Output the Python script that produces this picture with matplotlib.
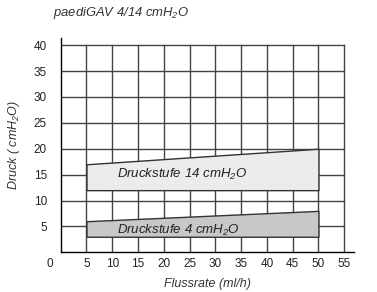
import matplotlib
matplotlib.use("Agg")
import matplotlib.pyplot as plt
import numpy as np

plt.rcParams['font.family'] = ['Liberation Sans', 'DejaVu Sans']
plt.rcParams['mathtext.fontset'] = 'custom'
plt.rcParams['mathtext.it'] = 'Liberation Sans:italic'
plt.rcParams['mathtext.rm'] = 'Liberation Sans:italic'

# data
x_ticks = [5, 10, 15, 20, 25, 30, 35, 40, 45, 50, 55]
y_ticks = [5, 10, 15, 20, 25, 30, 35, 40]
band14_x = [5, 50]
band14_low = [12, 12]
band14_high = [17, 20]
band4_x = [5, 50]
band4_low = [3, 3]
band4_high = [6, 8]
title = "paediGAV 4/14 cmH$_2$O"
label14 = "Druckstufe 14 cmH$_2$O"
label4 = "Druckstufe 4 cmH$_2$O"

fig = plt.figure(figsize=(3.77, 2.92), dpi=100)
ax = fig.add_axes([0.161, 0.136, 0.778, 0.734])
ax.set_xlim(0, 56.9)
ax.set_ylim(0, 41.4)

gc = '#444444'
for xv in x_ticks:
    ax.plot([xv, xv], [0, 40], color=gc, lw=1.0, zorder=1)
for yv in y_ticks:
    ax.plot([0, 55], [yv, yv], color=gc, lw=1.0, zorder=1)

ax.fill_between(band14_x, band14_low, band14_high, facecolor='#ececec',
                edgecolor='#333333', lw=1.0, zorder=2)
ax.fill_between(band4_x, band4_low, band4_high, facecolor='#c8c8c8',
                edgecolor='#333333', lw=1.0, zorder=2)

ax.text(10.9, 15.0, label14, style='italic', fontsize=9.5, color='#222222',
        va='center', ha='left', zorder=3)
ax.text(10.9, 4.3, label4, style='italic', fontsize=9.5, color='#222222',
        va='center', ha='left', zorder=3)

for s in ['top', 'right']:
    ax.spines[s].set_visible(False)
for s in ['left', 'bottom']:
    ax.spines[s].set_color('black')
    ax.spines[s].set_linewidth(1.0)

ax.set_xticks(x_ticks)
ax.set_yticks(y_ticks)
ax.tick_params(length=0, labelsize=8.5, labelcolor='#222222')
ax.tick_params(axis='y', pad=10)
ax.tick_params(axis='x', pad=4)
ax.annotate("0", xy=(0, 0), xycoords='axes fraction', xytext=(-7.5, -4),
            textcoords='offset points', fontsize=8.5, color='#222222',
            ha='center', va='top', annotation_clip=False)

ax.set_xlabel("Flussrate (ml/h)", style='italic', fontsize=9, color='#333333', labelpad=6)
ax.set_ylabel("Druck ( cmH$_2$O)", style='italic', fontsize=9, color='#333333', labelpad=8)

fig.text(53/377, 1 - 13/292, title, style='italic', fontsize=9.4, color='#333333',
         ha='left', va='center')

fig.savefig("out.png", dpi=100)
